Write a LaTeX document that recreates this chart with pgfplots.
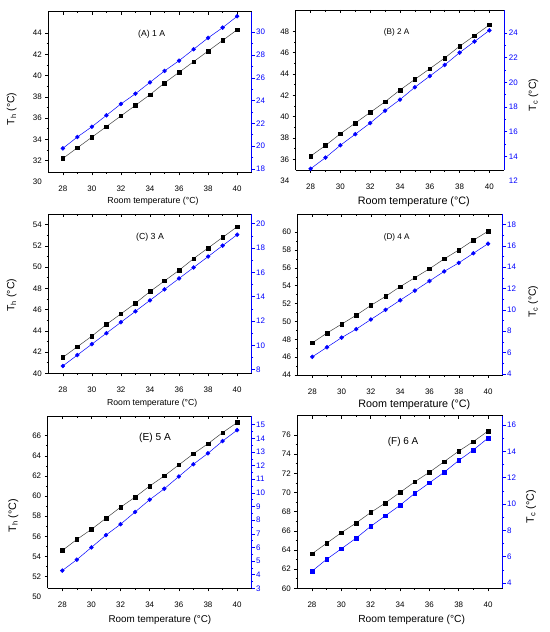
\documentclass[border=0pt]{standalone}
\usepackage{fontspec}
\setmainfont{Liberation Sans}
\usepackage{pgfplots}
\usepackage{pgfplotstable}
\pgfplotsset{compat=1.18}

\pgfplotstableread{
x Th Tc
28 32.2 19.8
29 33.2 20.8
30 34.2 21.7
31 35.2 22.7
32 36.2 23.7
33 37.2 24.6
34 38.2 25.6
35 39.3 26.6
36 40.3 27.5
37 41.3 28.5
38 42.3 29.5
39 43.3 30.4
40 44.3 31.4
}\dataA
\pgfplotstableread{
x Th Tc
28 36.3 13.0
29 37.3 13.9
30 38.4 14.9
31 39.4 15.8
32 40.4 16.7
33 41.4 17.7
34 42.5 18.6
35 43.5 19.6
36 44.5 20.5
37 45.5 21.4
38 46.6 22.4
39 47.6 23.3
40 48.6 24.2
}\dataB
\pgfplotstableread{
x Th Tc
28 41.5 8.3
29 42.5 9.2
30 43.5 10.1
31 44.6 11.0
32 45.6 11.9
33 46.6 12.8
34 47.7 13.7
35 48.7 14.6
36 49.7 15.5
37 50.8 16.4
38 51.8 17.3
39 52.8 18.2
40 53.8 19.1
}\dataC
\pgfplotstableread{
x Th Tc
28 47.6 5.6
29 48.7 6.5
30 49.7 7.4
31 50.7 8.2
32 51.8 9.1
33 52.8 10.0
34 53.9 10.9
35 54.9 11.8
36 55.9 12.7
37 57.0 13.6
38 58.0 14.4
39 59.1 15.3
40 60.1 16.2
}\dataD
\pgfplotstableread{
x Th Tc
28 54.6 4.3
29 55.7 5.1
30 56.7 6.0
31 57.8 6.9
32 58.9 7.7
33 59.9 8.6
34 61.0 9.5
35 62.0 10.3
36 63.1 11.2
37 64.2 12.1
38 65.2 12.9
39 66.3 13.8
40 67.3 14.6
}\dataE
\pgfplotstableread{
x Th Tc
28 63.6 4.9
29 64.7 5.8
30 65.8 6.6
31 66.8 7.4
32 67.9 8.3
33 68.9 9.1
34 70.0 9.9
35 71.1 10.8
36 72.1 11.6
37 73.2 12.4
38 74.3 13.3
39 75.3 14.1
40 76.4 15.0
}\dataF

\newcommand{\tlf}{\fontsize{8}{9.6}\selectfont}
\pgfplotsset{
  base/.style={scale only axis, anchor=south west, xmin=27, xmax=41,
    xtick={28,30,...,40}, minor x tick num=1, minor y tick num=1,
    tick align=outside, major tick length=3bp, minor tick length=1.7bp,
    /pgf/number format/assume math mode=true, clip=false,
    tick label style={font=\tlf},
    axis line style={-, line width=0.6pt},
    every tick/.style={line width=0.5pt}},
  lax/.style={base, axis x line*=bottom, axis y line*=left,
    xticklabel style={yshift=-7.5bp},
    xlabel={Room temperature (°C)}},
  rax/.style={base, axis x line*=top, axis y line*=right, xticklabels={},
    xtick align=inside,
    y axis line style={blue}, ytick style={blue},
    yticklabel style={blue, xshift=-2bp}},
  thplot/.style={black!75, line width=0.5pt, mark=square*, mark size=1.8bp,
    mark options={solid, fill=black, draw=black}},
  tcplot/.style={blue, line width=0.5pt, mark=*, mark size=1.95bp,
    mark options={solid, fill=blue, draw=blue}},
}

\begin{document}
\begin{tikzpicture}
\path (0bp,0bp) rectangle (550bp,632bp);

% ---------- Panel A ----------
\begin{axis}[lax, at={(48.3bp,459.7bp)}, width=203.4bp, height=160.6bp,
  ymin=30.9, ymax=46, ytick={32,34,...,44},
  xlabel style={at={(axis description cs:0.515,0)}, anchor=center, yshift=-29.4bp, font=\fontsize{8.8}{10}\selectfont},
  ylabel={T\textsubscript{h} (°C)},
  ylabel style={at={(axis description cs:-0.18,0.394)}, anchor=center, font=\fontsize{10.5}{12}\selectfont}]
\addplot[thplot] table[x=x,y=Th]{\dataA};
\node[anchor=east, font=\tlf, xshift=-3bp] at (axis cs:27,30) {30};
\node[font=\fontsize{8.7}{10}\selectfont] at (rel axis cs:0.508,0.859) {(A) 1 A};
\end{axis}
\begin{axis}[rax, at={(48.3bp,459.7bp)}, width=203.4bp, height=160.6bp,
  ymin=17.7, ymax=31.8, ytick={18,20,...,30}]
\addplot[tcplot] table[x=x,y=Tc]{\dataA};
\end{axis}

% ---------- Panel B ----------
\begin{axis}[lax, at={(295.7bp,462bp)}, width=208.6bp, height=160bp,
  ymin=35, ymax=50, ytick={36,38,...,48},
  xlabel style={at={(axis description cs:0.566,0)}, anchor=center, yshift=-31.7bp, font=\fontsize{10.8}{12}\selectfont}]
\addplot[thplot] table[x=x,y=Th]{\dataB};
\node[anchor=east, font=\tlf, xshift=-3bp] at (axis cs:27,34) {34};
\node[font=\fontsize{8.2}{10}\selectfont] at (rel axis cs:0.484,0.861) {(B) 2 A};
\end{axis}
\begin{axis}[rax, at={(295.7bp,462bp)}, width=208.6bp, height=160bp,
  ymin=12.9, ymax=25.85, ytick={14,16,...,24},
  ylabel={T\textsubscript{c} (°C)},
  ylabel style={at={(axis description cs:1.139,0.469)}, anchor=center, font=\fontsize{10.5}{12}\selectfont}]
\addplot[tcplot] table[x=x,y=Tc]{\dataB};
\node[anchor=west, font=\tlf, blue, xshift=1bp] at (axis cs:41,12) {12};
\end{axis}

% ---------- Panel C ----------
\begin{axis}[lax, at={(48.3bp,258.7bp)}, width=203.4bp, height=159.3bp,
  ymin=40, ymax=55, ytick={40,42,...,54},
  xlabel style={at={(axis description cs:0.511,0)}, anchor=center, yshift=-30bp, font=\fontsize{8.7}{10}\selectfont},
  ylabel={T\textsubscript{h} (°C)},
  ylabel style={at={(axis description cs:-0.18,0.49)}, anchor=center, font=\fontsize{10.5}{12}\selectfont}]
\addplot[thplot] table[x=x,y=Th]{\dataC};
\node[font=\fontsize{8.8}{10}\selectfont] at (rel axis cs:0.5,0.857) {(C) 3 A};
\end{axis}
\begin{axis}[rax, at={(48.3bp,258.7bp)}, width=203.4bp, height=159.3bp,
  ymin=7.7, ymax=20.8, ytick={8,10,...,20}]
\addplot[tcplot] table[x=x,y=Tc]{\dataC};
\end{axis}

% ---------- Panel D ----------
\begin{axis}[lax, at={(297.7bp,257bp)}, width=205bp, height=160.7bp,
  ymin=44, ymax=62, ytick={44,46,...,60},
  xlabel style={at={(axis description cs:0.569,0)}, anchor=center, yshift=-30bp, font=\fontsize{10.8}{12}\selectfont}]
\addplot[thplot] table[x=x,y=Th]{\dataD};
\node[font=\fontsize{8.2}{10}\selectfont] at (rel axis cs:0.483,0.857) {(D) 4 A};
\end{axis}
\begin{axis}[rax, at={(297.7bp,257bp)}, width=205bp, height=160.7bp,
  ymin=3.9, ymax=18.95, ytick={4,6,...,18},
  ylabel={T\textsubscript{c} (°C)},
  ylabel style={at={(axis description cs:1.149,0.456)}, anchor=center, font=\fontsize{10.5}{12}\selectfont}]
\addplot[tcplot] table[x=x,y=Tc]{\dataD};
\end{axis}

% ---------- Panel E ----------
\begin{axis}[lax, at={(47.7bp,43.7bp)}, width=204bp, height=171.8bp,
  ymin=50.85, ymax=67.9, ytick={52,54,...,66},
  xlabel style={at={(axis description cs:0.55,0)}, anchor=center, yshift=-31.7bp, font=\fontsize{9.9}{12}\selectfont},
  ylabel={T\textsubscript{h} (°C)},
  ylabel style={at={(axis description cs:-0.169,0.423)}, anchor=center, font=\fontsize{10.8}{12}\selectfont}]
\addplot[thplot] table[x=x,y=Th]{\dataE};
\node[anchor=east, font=\tlf, xshift=-3bp] at (axis cs:27,50) {50};
\node[font=\fontsize{10.2}{12}\selectfont] at (rel axis cs:0.526,0.873) {(E) 5 A};
\end{axis}
\begin{axis}[rax, at={(47.7bp,43.7bp)}, width=204bp, height=171.8bp,
  ymin=3, ymax=15.6, ytick={3,4,...,15}]
\addplot[tcplot] table[x=x,y=Tc]{\dataE};
\end{axis}

% ---------- Panel F ----------
\begin{axis}[lax, at={(297.3bp,43.7bp)}, width=205.4bp, height=172.6bp,
  ymin=60, ymax=78, ytick={60,62,...,76},
  xlabel style={at={(axis description cs:0.557,0)}, anchor=center, yshift=-31.7bp, font=\fontsize{10.3}{12}\selectfont}]
\addplot[thplot] table[x=x,y=Th]{\dataF};
\node[font=\fontsize{10}{12}\selectfont] at (rel axis cs:0.515,0.849) {(F) 6 A};
\end{axis}
\begin{axis}[rax, at={(297.3bp,43.7bp)}, width=205.4bp, height=172.6bp,
  ymin=3.6, ymax=16.7, ytick={4,6,...,16},
  ylabel={T\textsubscript{c} (°C)},
  ylabel style={at={(axis description cs:1.138,0.473)}, anchor=center, font=\fontsize{10.8}{12}\selectfont}]
\addplot[tcplot, mark=square*, mark size=1.8bp] table[x=x,y=Tc]{\dataF};
\end{axis}
\end{tikzpicture}
\end{document}
